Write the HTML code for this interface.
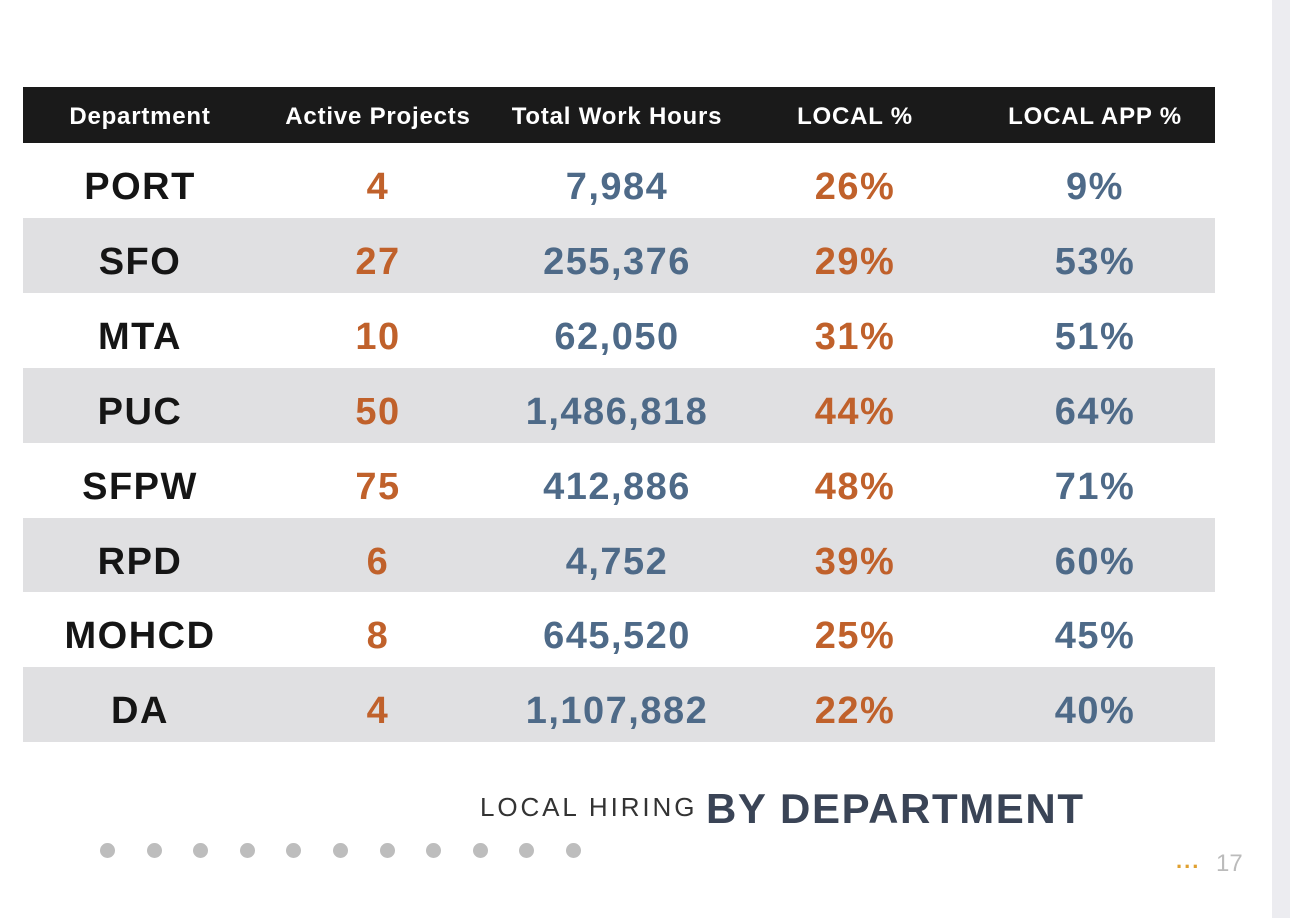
<!DOCTYPE html>
<html><head><meta charset="utf-8"><style>
body{margin:0;width:1290px;height:918px;background:#fff;position:relative;overflow:hidden;font-family:"Liberation Sans",sans-serif}
.strip{position:absolute;left:1272px;top:0;width:18px;height:918px;background:#ececf0}
.hdr{position:absolute;left:23px;top:87px;width:1192px;height:56px;background:#1a1a1a}
.row{position:absolute;left:23px;width:1192px;height:75px}
.c{position:absolute;top:0;transform:translateX(-50%);white-space:nowrap;font-weight:bold}
.hdr .c{top:2px;line-height:56px;color:#fff;font-size:24px;letter-spacing:0.8px}
.row .c{top:7px;line-height:75px;font-size:38px;letter-spacing:1.5px}
.d{color:#151515}.o{color:#c0612b}.b{color:#4e6a88}
.dot{position:absolute;top:843px;width:15px;height:15px;border-radius:50%;background:#bdbdbd}
</style></head><body>
<div class="strip"></div>
<div class="hdr">
<div class="c" style="left:117px">Department</div>
<div class="c" style="left:355px">Active Projects</div>
<div class="c" style="left:594px">Total Work Hours</div>
<div class="c" style="left:832px">LOCAL %</div>
<div class="c" style="left:1072px">LOCAL APP %</div>
</div>
<div id="rows"></div>
<div style="position:absolute;left:480px;top:792px;font-size:26px;letter-spacing:2.9px;color:#333">LOCAL HIRING</div>
<div style="position:absolute;left:706px;top:785px;font-size:42px;font-weight:bold;color:#3a4456;letter-spacing:1.6px">BY DEPARTMENT</div>
<div id="dots"></div>
<div style="position:absolute;left:1176px;top:848px;font-size:22px;color:#e0a030;font-weight:bold;letter-spacing:2px">...</div>
<div style="position:absolute;left:1216px;top:850px;font-size:24px;color:#bbb">17</div>
<script>
const departments=["PORT","SFO","MTA","PUC","SFPW","RPD","MOHCD","DA"];
const activeProjects=["4","27","10","50","75","6","8","4"];
const workHours=["7,984","255,376","62,050","1,486,818","412,886","4,752","645,520","1,107,882"];
const localPct=["26%","29%","31%","44%","48%","39%","25%","22%"];
const localAppPct=["9%","53%","51%","64%","71%","60%","45%","40%"];
const rows=document.getElementById('rows');
const cols=[[117,'d',departments,'department'],[355,'o',activeProjects,'active-projects'],[594,'b',workHours,'work-hours'],[832,'o',localPct,'local-pct'],[1072,'b',localAppPct,'local-app-pct']];
departments.forEach((d,i)=>{
 const r=document.createElement('div');
 r.className='row';
 r.style.top=(143+i*74.9)+'px';
 r.style.background=i%2?'#e0e0e2':'#fff';
 
 
 cols.forEach(c=>{
  const e=document.createElement('div');
  e.className='c '+c[1];
  e.style.left=c[0]+'px';
  e.textContent=c[2][i];
  
  
  r.appendChild(e);
 });
 rows.appendChild(r);
});
const dots=document.getElementById('dots');
for(let i=0;i<11;i++){
 const e=document.createElement('div');
 e.className='dot';
 e.style.left=(100+i*46.6)+'px';
 
 
 dots.appendChild(e);
}
</script>
</body></html>
